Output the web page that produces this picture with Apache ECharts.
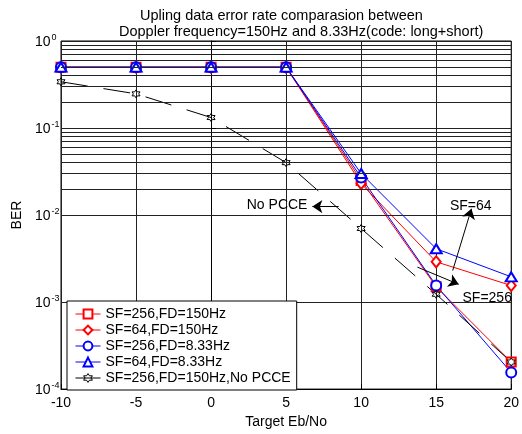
<!DOCTYPE html>
<html>
<head>
<meta charset="utf-8">
<script src="https://cdn.jsdelivr.net/npm/echarts@6/dist/echarts.min.js"></script>
<style>
  html, body { margin: 0; padding: 0; background: #fff; }
  #chart { width: 522px; height: 434px; }
</style>
</head>
<body>
<div id="chart"></div>
<script>
// Target Eb/No (dB) sample points
const ebNo = [-10, -5, 0, 5, 10, 15, 20];

// BER curves
const berSF256FD150 = [0.5, 0.5, 0.5, 0.5, 0.025, 1.5e-3, 2.05e-4];
const berSF64FD150 = [0.5, 0.5, 0.5, 0.5, 0.023, 2.9e-3, 1.55e-3];
const berSF256FD833 = [0.5, 0.5, 0.5, 0.5, 0.027, 1.55e-3, 1.55e-4];
const berSF64FD833 = [0.5, 0.5, 0.5, 0.5, 0.030, 4.1e-3, 1.95e-3];
const berNoPcce = [0.34, 0.247, 0.132, 0.040, 7.0e-3, 1.23e-3, 2.05e-4];

const seriesNames = [
  'SF=256,FD=150Hz',
  'SF=64,FD=150Hz',
  'SF=256,FD=8.33Hz',
  'SF=64,FD=8.33Hz',
  'SF=256,FD=150Hz,No PCCE'
];

// x-axis ticks
const xTicks = [-10, -5, 0, 5, 10, 15, 20];

// decades of the log axis and the minor grid multipliers inside each decade
const decades = [1e-4, 1e-3, 1e-2, 1e-1];
const minorSteps = [2, 3, 4, 5, 6, 7, 8, 9];

// annotation arrows: [from, to] in data coordinates
const arrowNoPcce = [[8.5, 0.0125], [6.75, 0.0125]];
const arrowSF64 = [[16.1, 2.3e-3], [17.35, 0.0118]];
const arrowSF256 = [[13.75, 2.52e-3], [16.5, 1.6e-3]];
// annotation texts and anchor points
const notes = [
  { text: 'No PCCE', at: [4.4, 0.0131] },
  { text: 'SF=64', at: [17.3, 0.0125] },
  { text: 'SF=256', at: [18.4, 1.12e-3] }
];

const FONT = '"Liberation Sans", Arial, Helvetica, sans-serif';

function pairs(ys) {
  return ebNo.map((x, i) => [x, ys[i]]);
}

const minorLines = [];
decades.forEach(d => minorSteps.forEach(m => minorLines.push({ yAxis: d * m })));

const hexagram = 'path://M10,0L12.89,5L18.66,5L15.77,10L18.66,15L12.89,15L10,20L7.11,15L1.34,15L4.23,10L1.34,5L7.11,5Z';

function arrowLine(a) {
  return [
    { coord: a[0], symbol: 'none' },
    { coord: a[1], symbol: 'arrow', symbolSize: 10 }
  ];
}

const chart = echarts.init(document.getElementById('chart'), null, { renderer: 'canvas' });

chart.setOption({
  animation: false,
  backgroundColor: '#fff',
  textStyle: { fontFamily: FONT },
  title: [
    {
      text: 'Upling data error rate comparasion between',
      left: 140, top: 8, padding: 0,
      textStyle: { fontFamily: FONT, fontSize: 14.5, fontWeight: 'normal', color: '#000' }
    },
    {
      text: 'Doppler frequency=150Hz and 8.33Hz(code: long+short)',
      left: 119, top: 24, padding: 0,
      textStyle: { fontFamily: FONT, fontSize: 14.5, fontWeight: 'normal', color: '#000' }
    }
  ],
  grid: {
    left: 61, top: 41, width: 452, height: 356,
    show: true, borderColor: '#000', borderWidth: 1, backgroundColor: 'transparent'
  },
  legend: {
    data: seriesNames,
    orient: 'vertical',
    left: 67, top: 301,
    padding: [6, 6, 5, 8],
    itemWidth: 25, itemHeight: 11, itemGap: 2,
    backgroundColor: '#fff',
    borderColor: '#000', borderWidth: 1, borderRadius: 0,
    itemStyle: { borderWidth: 1 },
    lineStyle: { width: 1 },
    textStyle: { fontFamily: FONT, fontSize: 14, color: '#000', lineHeight: 12 },
    selectedMode: false
  },
  xAxis: {
    type: 'value',
    min: -10, max: 20, interval: 5,
    name: 'Target Eb/No',
    nameLocation: 'middle',
    nameGap: 22,
    nameTextStyle: { fontFamily: FONT, fontSize: 14, color: '#000' },
    axisLine: { show: true, lineStyle: { color: '#000', width: 1 } },
    axisTick: { inside: true, length: 5, lineStyle: { color: '#000' } },
    axisLabel: {
      fontFamily: FONT, fontSize: 14, color: '#000', margin: 7,
      customValues: xTicks
    },
    splitLine: { show: true, lineStyle: { color: '#222', width: 1 } }
  },
  yAxis: {
    type: 'log',
    logBase: 10,
    min: 1e-4, max: 1,
    name: 'BER',
    nameLocation: 'middle',
    nameGap: 36,
    nameTextStyle: { fontFamily: FONT, fontSize: 14, color: '#000' },
    axisLine: { show: true, lineStyle: { color: '#000', width: 1 } },
    axisTick: { inside: true, length: 5, lineStyle: { color: '#000' } },
    axisLabel: {
      align: 'left',
      margin: 26,
      formatter: function (v) {
        const e = Math.round(Math.log10(v));
        return '{b|10}{e|' + e + '}';
      },
      rich: {
        b: { fontFamily: FONT, fontSize: 14, color: '#000', lineHeight: 16, verticalAlign: 'bottom' },
        e: { fontFamily: FONT, fontSize: 9, color: '#000', lineHeight: 9, verticalAlign: 'top', padding: [0, 0, 0, 1] }
      }
    },
    splitLine: { show: true, lineStyle: { color: '#222', width: 1 } }
  },
  series: [
    {
      // minor log grid lines
      type: 'line',
      name: 'grid-minor',
      data: [],
      z: 1,
      silent: true,
      markLine: {
        silent: true,
        symbol: ['none', 'none'],
        label: { show: false },
        lineStyle: { color: '#222', width: 1, type: 'solid' },
        data: minorLines
      }
    },
    {
      // annotations
      type: 'line',
      name: 'notes',
      data: [],
      z: 5,
      silent: true,
      markLine: {
        silent: true,
        label: { show: false },
        lineStyle: { color: '#000', width: 1, type: 'solid' },
        data: [arrowLine(arrowNoPcce), arrowLine(arrowSF64), arrowLine(arrowSF256)]
      },
      markPoint: {
        silent: true,
        symbol: 'circle',
        symbolSize: 1,
        itemStyle: { color: 'rgba(0,0,0,0)' },
        label: {
          show: true,
          position: 'inside',
          fontFamily: FONT, fontSize: 14, color: '#000',
          formatter: p => p.name
        },
        data: notes.map(n => ({ name: n.text, coord: n.at }))
      }
    },
    {
      name: seriesNames[0],
      type: 'line',
      data: pairs(berSF256FD150),
      symbol: 'emptyRect', symbolSize: 9,
      itemStyle: { color: '#ff0000', borderWidth: 1 },
      lineStyle: { color: '#ff0000', width: 1 }
    },
    {
      name: seriesNames[1],
      type: 'line',
      data: pairs(berSF64FD150),
      symbol: 'emptyDiamond', symbolSize: [9, 11],
      itemStyle: { color: '#ff0000', borderWidth: 1 },
      lineStyle: { color: '#ff0000', width: 1 }
    },
    {
      name: seriesNames[2],
      type: 'line',
      data: pairs(berSF256FD833),
      symbol: 'emptyCircle', symbolSize: 10,
      itemStyle: { color: '#0000ff', borderWidth: 1 },
      lineStyle: { color: '#0000ff', width: 1 }
    },
    {
      name: seriesNames[3],
      type: 'line',
      data: pairs(berSF64FD833),
      symbol: 'emptyTriangle', symbolSize: [11, 9],
      itemStyle: { color: '#0000ff', borderWidth: 1 },
      lineStyle: { color: '#0000ff', width: 1 }
    },
    {
      name: seriesNames[4],
      type: 'line',
      data: pairs(berNoPcce),
      symbol: hexagram, symbolSize: 8,
      itemStyle: { color: 'rgba(255,255,255,0)', borderColor: '#000', borderWidth: 1 },
      lineStyle: { color: '#000', width: 1, type: [27, 16] }
    }
  ]
});
</script>
</body>
</html>
